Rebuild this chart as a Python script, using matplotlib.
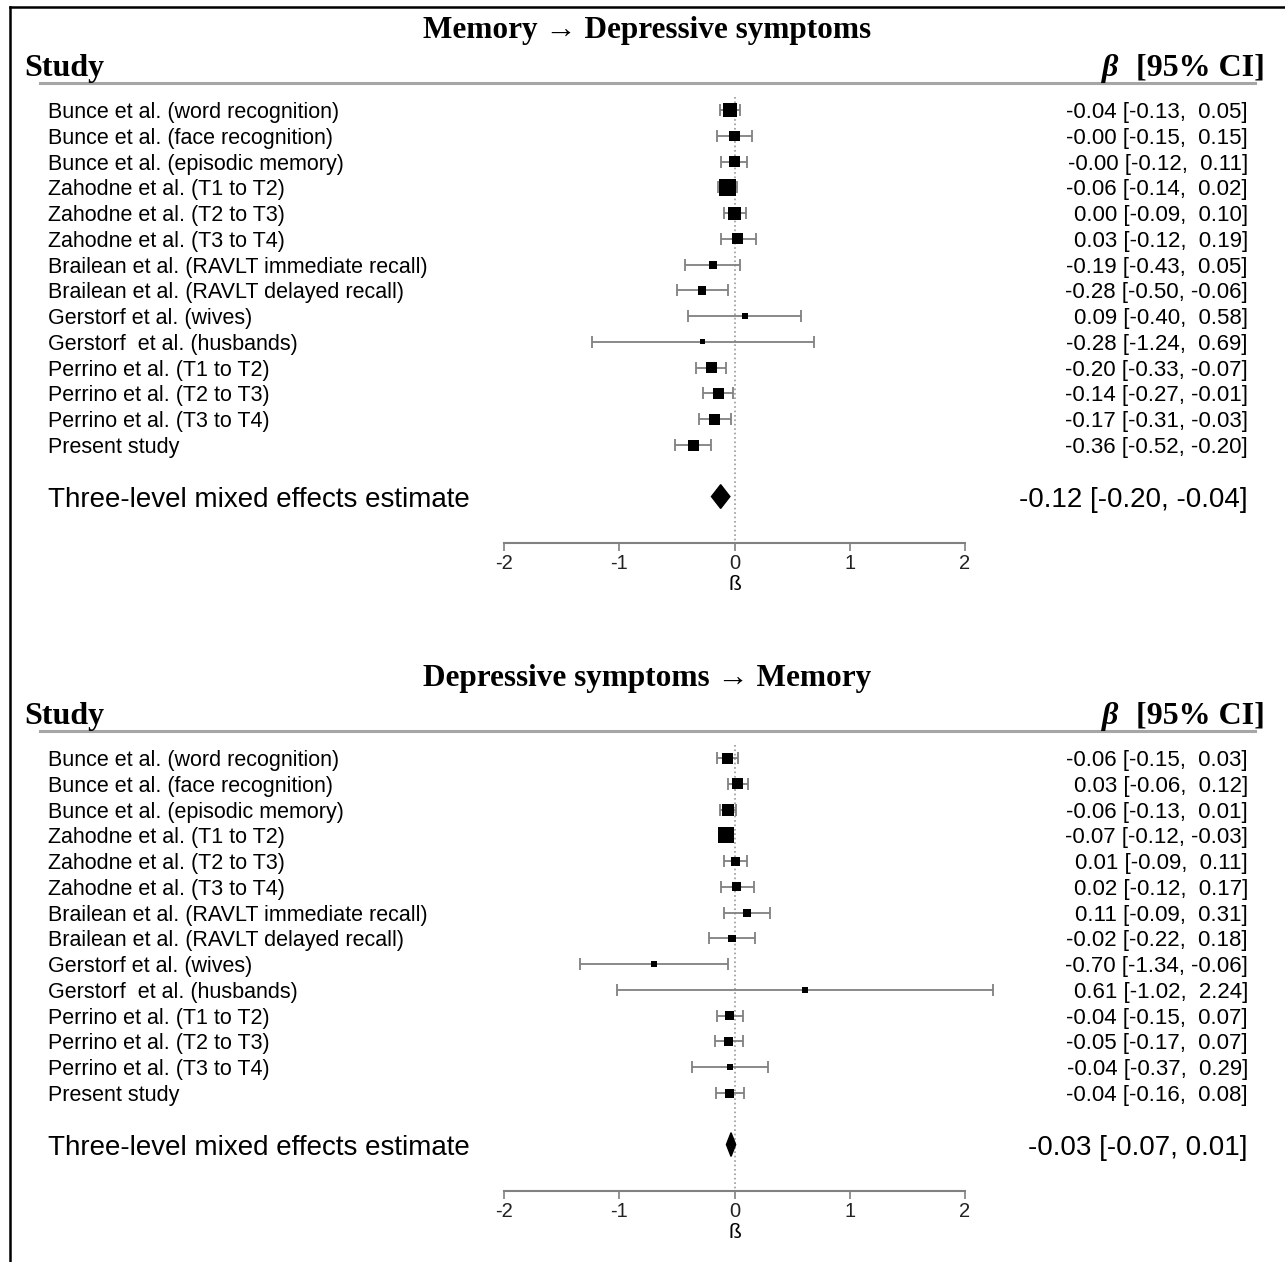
import numpy as np
import matplotlib.pyplot as plt
import matplotlib.transforms as mtransforms
from matplotlib.lines import Line2D

plt.rcParams['axes.unicode_minus'] = False

studies = ['Bunce et al. (word recognition)',
           'Bunce et al. (face recognition)',
           'Bunce et al. (episodic memory)',
           'Zahodne et al. (T1 to T2)',
           'Zahodne et al. (T2 to T3)',
           'Zahodne et al. (T3 to T4)',
           'Brailean et al. (RAVLT immediate recall)',
           'Brailean et al. (RAVLT delayed recall)',
           'Gerstorf et al. (wives)',
           'Gerstorf  et al. (husbands)',
           'Perrino et al. (T1 to T2)',
           'Perrino et al. (T2 to T3)',
           'Perrino et al. (T3 to T4)',
           'Present study']

# Memory -> Depressive symptoms
est_top = [-0.04, -0.0, -0.0, -0.06, 0.00, 0.03, -0.19, -0.28, 0.09, -0.28, -0.20, -0.14, -0.17, -0.36]
lo_top = [-0.13, -0.15, -0.12, -0.14, -0.09, -0.12, -0.43, -0.50, -0.40, -1.24, -0.33, -0.27, -0.31, -0.52]
hi_top = [0.05, 0.15, 0.11, 0.02, 0.10, 0.19, 0.05, -0.06, 0.58, 0.69, -0.07, -0.01, -0.03, -0.20]
w_top = [14, 10.5, 11.5, 16.5, 13, 11, 8, 8.5, 5.5, 5, 11.5, 11.5, 11, 11]
pooled_top = (-0.12, -0.20, -0.04)

# Depressive symptoms -> Memory
est_bot = [-0.06, 0.03, -0.06, -0.07, 0.01, 0.02, 0.11, -0.02, -0.70, 0.61, -0.04, -0.05, -0.04, -0.04]
lo_bot = [-0.15, -0.06, -0.13, -0.12, -0.09, -0.12, -0.09, -0.22, -1.34, -1.02, -0.15, -0.17, -0.37, -0.16]
hi_bot = [0.03, 0.12, 0.01, -0.03, 0.11, 0.17, 0.31, 0.18, -0.06, 2.24, 0.07, 0.07, 0.29, 0.08]
w_bot = [11, 11, 12, 16, 9, 9, 8, 7.5, 5.5, 5.5, 9, 9, 6.5, 9]
pooled_bot = (-0.03, -0.07, 0.01)

W, H = 1285, 1262
SANS = ['Liberation Sans', 'DejaVu Sans']
SERIF = ['Liberation Serif', 'DejaVu Serif']
GREY = '#808080'
ROW = 25.77  # pixels per row

fig = plt.figure(figsize=(W / 100, H / 100), dpi=100)


def ci_text(e, l, h, sep='  '):
    s = f'{e:.2f} [{l:.2f},'
    s += (sep if h >= 0 else ' ') + f'{h:.2f}]'
    return s


def panel(off, title, est, lo, hi, w, pooled):
    # forest axes: rows 0..13, pooled at row 15, axis line below
    top_px, bot_px = 90 + off, 543 + off
    ax = fig.add_axes([504 / W, 1 - bot_px / H, 461 / W, (bot_px - top_px) / H])
    r0 = 110 + off
    ax.set_xlim(-2, 2)
    ax.set_ylim((bot_px - r0) / ROW, (top_px - r0) / ROW)
    rows = np.arange(len(est))

    ax.plot([0, 0], [-0.5, (bot_px - r0) / ROW], ls=':', color='#999999', lw=1.2, zorder=1)
    ax.errorbar(est, rows, xerr=[np.array(est) - np.array(lo), np.array(hi) - np.array(est)],
                fmt='none', ecolor=GREY, elinewidth=1.3, capsize=4.5, capthick=1.3,
                clip_on=False, zorder=2)
    ax.scatter(est, rows, s=(np.array(w) * 0.72) ** 2, marker='s', color='k',
               zorder=3, clip_on=False, linewidths=0)
    pe, pl, ph = pooled
    py = 15
    ax.fill([pl, pe, ph, pe], [py, py - 0.46, py, py + 0.46], color='k', zorder=3, clip_on=False)

    for s in ['top', 'left', 'right']:
        ax.spines[s].set_visible(False)
    ax.spines['bottom'].set_color(GREY)
    ax.spines['bottom'].set_linewidth(1.5)
    ax.set_yticks([])
    ax.set_xticks([-2, -1, 0, 1, 2])
    ax.tick_params(axis='x', direction='out', length=6, width=1.2, color=GREY,
                   labelsize=14.5, labelcolor='#222222', pad=2)
    for t in ax.get_xticklabels():
        t.set_fontfamily(SANS)
    ax.set_xlabel('ß', fontsize=15, family=SANS, labelpad=1)
    ax.patch.set_visible(False)

    tr = mtransforms.blended_transform_factory(fig.transFigure, ax.transData)
    for i, name in enumerate(studies):
        ax.text(48 / W, i, name, transform=tr, ha='left', va='center_baseline',
                fontsize=15.5, family=SANS)
        ax.text(1248 / W, i, ci_text(est[i], lo[i], hi[i]), transform=tr, ha='right',
                va='center_baseline', fontsize=16, family=SANS)
    ax.text(48 / W, py, 'Three-level mixed effects estimate', transform=tr, ha='left',
            va='center_baseline', fontsize=20, family=SANS)
    ax.text(1248 / W, py, ci_text(pe, pl, ph, sep=' '), transform=tr, ha='right',
            va='center_baseline', fontsize=20, family=SANS)

    # headings
    ax.text(647 / W, (27 + off - r0) / ROW, title, transform=tr, ha='center', va='center_baseline',
            fontsize=22.5, fontweight='bold', family=SERIF)
    hy = (65 + off - r0) / ROW
    ax.text(24 / W, hy, 'Study', transform=tr, ha='left', va='center_baseline',
            fontsize=23, fontweight='bold', family=SERIF)
    ax.text(1265 / W, hy, '[95% CI]', transform=tr, ha='right', va='center_baseline',
            fontsize=23, fontweight='bold', family=SERIF)
    ax.text(1118 / W, hy, 'β', transform=tr, ha='right', va='center_baseline',
            fontsize=23, fontweight='bold', style='italic', family=SERIF)
    ly = (83 + off - r0) / ROW
    ax.add_line(Line2D([40 / W, 1255 / W], [ly, ly], transform=tr, color='#a6a6a6',
                       lw=2.2, clip_on=False))


panel(0, 'Memory → Depressive symptoms', est_top, lo_top, hi_top, w_top, pooled_top)
panel(648, 'Depressive symptoms → Memory', est_bot, lo_bot, hi_bot, w_bot, pooled_bot)

# frame lines (top and left)
fig.add_artist(Line2D([10 / W, 1], [1 - 7 / H, 1 - 7 / H], transform=fig.transFigure, color='k', lw=1.8))
fig.add_artist(Line2D([10 / W, 10 / W], [0, 1 - 7 / H], transform=fig.transFigure, color='k', lw=1.8))

fig.savefig('out.png', dpi=100)
